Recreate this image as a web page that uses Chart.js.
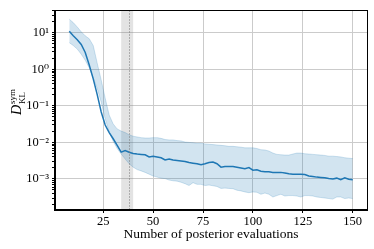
<!DOCTYPE html>
<html>
<head>
<meta charset="utf-8">
<script src="https://cdn.jsdelivr.net/npm/chart.js@4.4.0/dist/chart.umd.min.js"></script>
<style>
  html, body { margin: 0; padding: 0; background: #fff; }
  #wrap { width: 374px; height: 249px; }
</style>
</head>
<body>
<div id="wrap"><canvas id="klChart" width="374" height="249"></canvas></div>
<script>
// Number of posterior evaluations (x)
const evaluations = [8, 10, 12, 14, 16, 18, 20, 22, 24, 26, 28, 30, 32, 34, 36, 38, 40, 42, 44, 46,
  48, 50, 52, 54, 56, 58, 60, 62, 64, 66, 68, 70, 72, 74, 76, 78, 80, 82, 84, 86,
  88, 90, 92, 94, 96, 98, 100, 102, 104, 106, 108, 110, 112, 114, 116, 118, 120, 122, 124, 126,
  128, 130, 132, 134, 136, 138, 140, 142, 144, 146, 148, 150];

// symmetric KL divergence, median line
const klMean = [11.0, 8.3, 6.5, 4.8, 2.9, 1.32, 0.55, 0.204, 0.068, 0.030, 0.0186, 0.0126, 0.0083, 0.0054, 0.0060, 0.0054, 0.0050, 0.0048, 0.0047, 0.0046,
  0.0040, 0.0042, 0.0040, 0.0038, 0.0033, 0.0035, 0.0033, 0.0032, 0.0031, 0.0030, 0.0028, 0.0027, 0.0026, 0.00245, 0.0026, 0.0028, 0.0029, 0.0026, 0.0021, 0.0022,
  0.0022, 0.0022, 0.0021, 0.0020, 0.0019, 0.00204, 0.00174, 0.00178, 0.00162, 0.00158, 0.00158, 0.00151, 0.00151, 0.00151, 0.00145, 0.00138, 0.00135, 0.00135, 0.00135, 0.00132,
  0.00120, 0.00117, 0.00112, 0.00110, 0.00107, 0.00102, 0.00100, 0.00105, 0.00095, 0.00107, 0.00098, 0.00095];

// upper edge of the shaded band
const klUpper = [23.7, 19.1, 14.5, 10.7, 8.3, 6.9, 4.5, 1.48, 0.51, 0.162, 0.056, 0.032, 0.0234, 0.0204, 0.0186, 0.0162, 0.0148, 0.0141, 0.0135, 0.0132,
  0.0132, 0.0135, 0.0135, 0.0129, 0.0120, 0.0117, 0.0117, 0.0112, 0.0110, 0.0102, 0.0100, 0.0098, 0.0095, 0.0095, 0.0091, 0.0089, 0.0087, 0.0085, 0.0083, 0.0081,
  0.0078, 0.0078, 0.0076, 0.0074, 0.0071, 0.0071, 0.0071, 0.0068, 0.0063, 0.0062, 0.0058, 0.0051, 0.0047, 0.0046, 0.0045, 0.0045, 0.0048, 0.0051, 0.0051, 0.0049,
  0.0048, 0.0047, 0.0046, 0.0045, 0.0044, 0.0042, 0.0042, 0.0041, 0.0040, 0.0038, 0.0037, 0.0036];

// lower edge of the shaded band
const klLower = [5.4, 4.5, 3.6, 2.6, 1.78, 1.10, 0.59, 0.30, 0.126, 0.044, 0.0195, 0.0107, 0.0068, 0.0048, 0.0035, 0.0026, 0.0021, 0.0018, 0.00166, 0.00151,
  0.00135, 0.00120, 0.00112, 0.00105, 0.00102, 0.00093, 0.00089, 0.00087, 0.00081, 0.00074, 0.00066, 0.00079, 0.00071, 0.00071, 0.00066, 0.00068, 0.00065, 0.00062, 0.00055, 0.00056,
  0.00055, 0.00054, 0.00049, 0.00047, 0.00044, 0.00042, 0.00044, 0.00043, 0.00038, 0.00041, 0.00038, 0.00032, 0.00035, 0.00038, 0.00034, 0.00035, 0.00035, 0.00034, 0.00032, 0.00035,
  0.00035, 0.00034, 0.00032, 0.00031, 0.00030, 0.00029, 0.00028, 0.00032, 0.00032, 0.00029, 0.00030, 0.00029];

const xTickValues = [25, 50, 75, 100, 125, 150];
const yMajorValues = [1e-3, 1e-2, 1e-1, 1, 10];
const yTickLabels = ['10\u207B\u00B3', '10\u207B\u00B2', '10\u207B\u00B9', '10\u2070', '10\u00B9'];
const shadedRange = [34, 40];
const markerEval = 38;

const serif = "'Liberation Serif', 'DejaVu Serif', serif";
const blue = '#1f77b4';
const gridGray = '#cbcbcb';

// every 1..9 x 10^k inside the y range, for the log minor ticks
const yMin = 1.5e-4, yMax = 41;
const yAllTicks = [];
for (let e = -4; e <= 1; e++) {
  for (let s = 1; s <= 9; s++) {
    const v = s * Math.pow(10, e);
    if (v >= yMin && v <= yMax) yAllTicks.push({ value: v, major: s === 1 });
  }
}

const toPoints = ys => evaluations.map((x, i) => ({ x: x, y: ys[i] }));

// grey window + dotted marker, frame, and the y label with sub/superscripts
const extras = {
  id: 'extras',
  beforeDatasetsDraw(chart) {
    const { ctx, chartArea, scales } = chart;
    const x0 = scales.x.getPixelForValue(shadedRange[0]);
    const x1 = scales.x.getPixelForValue(shadedRange[1]);
    ctx.save();
    ctx.fillStyle = 'rgba(128,128,128,0.22)';
    ctx.fillRect(x0, chartArea.top, x1 - x0, chartArea.bottom - chartArea.top);
    ctx.restore();
  },
  afterDatasetsDraw(chart) {
    const { ctx, chartArea, scales } = chart;
    const xm = Math.round(scales.x.getPixelForValue(markerEval)) + 0.5;
    ctx.save();
    ctx.strokeStyle = '#777';
    ctx.lineWidth = 1;
    ctx.setLineDash([1, 2]);
    ctx.beginPath();
    ctx.moveTo(xm, chartArea.top);
    ctx.lineTo(xm, chartArea.bottom);
    ctx.stroke();
    ctx.restore();
  },
  afterDraw(chart) {
    const { ctx, chartArea } = chart;
    ctx.save();
    ctx.strokeStyle = '#000';
    ctx.lineWidth = 1;
    ctx.strokeRect(Math.round(chartArea.left) - 0.5, Math.round(chartArea.top) - 0.5,
      Math.round(chartArea.right - chartArea.left) + 1, Math.round(chartArea.bottom - chartArea.top) + 1);

    // y axis label: D^sym_KL
    ctx.translate(21, 115);
    ctx.rotate(-Math.PI / 2);
    ctx.fillStyle = '#000';
    ctx.textBaseline = 'alphabetic';
    ctx.font = 'italic 14px ' + serif;
    ctx.fillText('D', 0, 0);
    const wD = ctx.measureText('D').width;
    ctx.font = '9px ' + serif;
    ctx.fillText('sym', wD + 1, -6.5);
    ctx.fillText('KL', wD + 1, 4);
    ctx.restore();
  }
};

new Chart(document.getElementById('klChart'), {
  type: 'line',
  data: {
    datasets: [
      {
        data: toPoints(klUpper),
        borderColor: 'rgba(31,119,180,0.2)',
        borderWidth: 1,
        backgroundColor: 'rgba(31,119,180,0.2)',
        fill: '+1',
        pointRadius: 0,
        tension: 0
      },
      {
        data: toPoints(klLower),
        borderColor: 'rgba(31,119,180,0.2)',
        borderWidth: 1,
        fill: false,
        pointRadius: 0,
        tension: 0
      },
      {
        data: toPoints(klMean),
        borderColor: blue,
        borderWidth: 1.5,
        fill: false,
        pointRadius: 0,
        tension: 0
      }
    ]
  },
  options: {
    responsive: false,
    animation: false,
    layout: { padding: { top: 6, right: 7, left: 0, bottom: 0 } },
    plugins: {
      legend: { display: false },
      tooltip: { enabled: false }
    },
    scales: {
      x: {
        type: 'linear',
        min: 0.85,
        max: 157.15,
        afterBuildTicks: s => { s.ticks = xTickValues.map(v => ({ value: v })); },
        afterFit: s => { s.height = 40; },
        grid: { color: gridGray, lineWidth: 1, tickLength: 4, tickColor: '#000' },
        border: { color: '#000', width: 1 },
        ticks: {
          font: { family: serif, size: 12.5 },
          color: '#000',
          padding: 1,
          maxRotation: 0,
          autoSkip: false
        },
        title: {
          display: true,
          text: 'Number of posterior evaluations',
          font: { family: serif, size: 13.5 },
          color: '#000',
          padding: { top: 0, bottom: 6 }
        }
      },
      y: {
        type: 'logarithmic',
        min: yMin,
        max: yMax,
        afterBuildTicks: s => { s.ticks = yAllTicks.map(t => ({ value: t.value, major: t.major })); },
        afterFit: s => { s.width = 55; },
        grid: {
          color: c => (c.tick && c.tick.major) ? gridGray : 'rgba(0,0,0,0)',
          lineWidth: 1,
          tickLength: 3,
          tickColor: '#000'
        },
        border: { color: '#000', width: 1 },
        ticks: {
          autoSkip: false,
          font: { family: serif, size: 12.5 },
          color: '#000',
          padding: 3,
          callback: value => {
            const i = yMajorValues.findIndex(m => Math.abs(m - value) / m < 1e-6);
            return i >= 0 ? yTickLabels[i] : '';
          }
        }
      }
    }
  },
  plugins: [extras]
});
</script>
</body>
</html>
